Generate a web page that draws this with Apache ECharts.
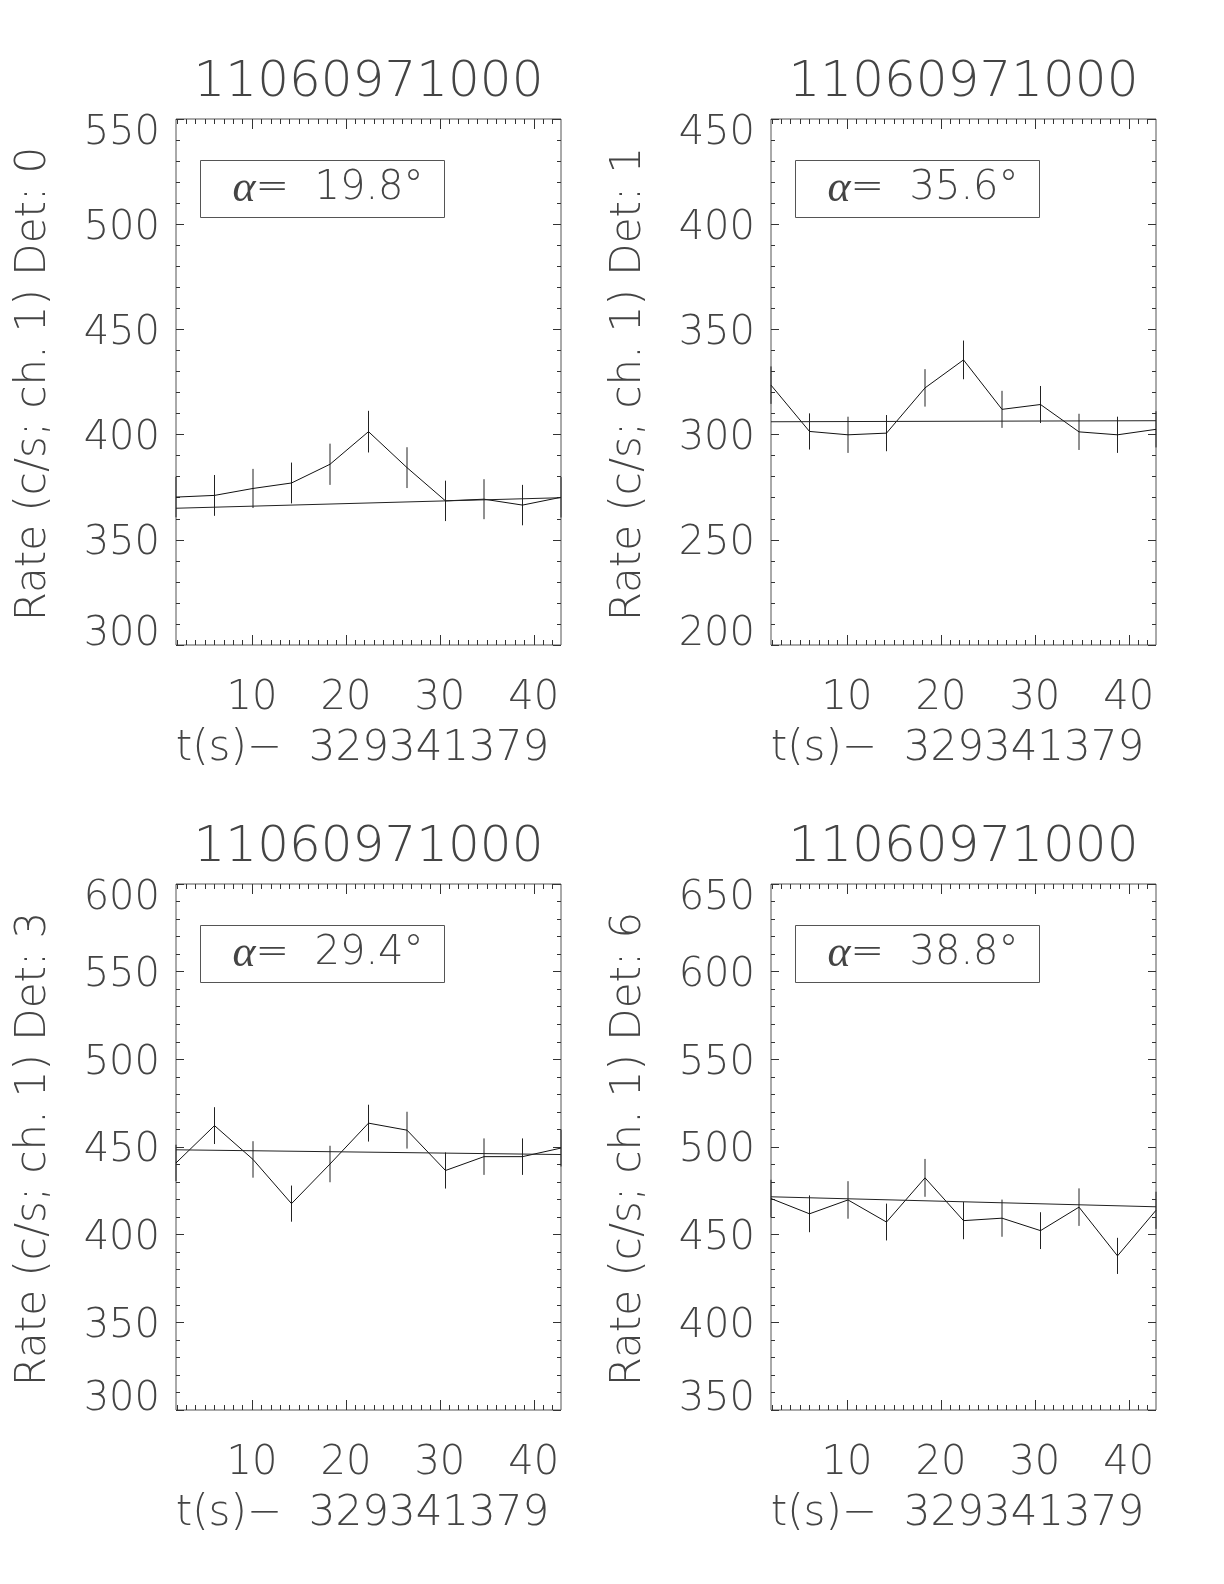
<!DOCTYPE html>
<html>
<head>
<meta charset="utf-8">
<title>11060971000 light curves</title>
<script src="https://cdn.jsdelivr.net/npm/echarts@6/dist/echarts.min.js"></script>
<style>
  html, body { margin: 0; padding: 0; background: #fff; }
  #chart { width: 1224px; height: 1584px; }
</style>
</head>
<body>
<div id="chart"></div>
<script>
// Observation and time base
const OBS_ID = '11060971000';
const T_OFFSET = '329341379';
const TIME = [1.9, 6.0, 10.1, 14.2, 18.3, 22.4, 26.5, 30.6, 34.7, 38.8, 42.9];
const X_TICKS = [10, 20, 30, 40];

// Detectors and their source angles
const DETECTORS = [0, 1, 3, 6];
const ALPHA = [19.8, 35.6, 29.4, 38.8];

// Count rates (c/s, channel 1), 1-sigma errors and background fit end points
const RATE_DET0 = [370.3, 371.1, 374.4, 377.0, 385.9, 401.4, 384.3, 368.5, 369.3, 366.5, 370.2];
const ERR_DET0  = [9.6, 9.7, 9.3, 9.7, 9.8, 9.9, 9.7, 9.6, 9.5, 9.6, 9.6];
const FIT_DET0  = [365.0, 370.0];

const RATE_DET1 = [323.5, 301.5, 299.9, 300.7, 322.2, 335.5, 312.0, 314.3, 301.3, 299.9, 302.5];
const ERR_DET1  = [8.9, 8.6, 8.6, 8.6, 8.9, 9.2, 8.8, 8.8, 8.6, 8.6, 8.6];
const FIT_DET1  = [306.1, 306.6];

const RATE_DET3 = [440.9, 462.2, 442.9, 417.7, 440.3, 463.6, 459.6, 436.6, 444.5, 444.5, 449.4];
const ERR_DET3  = [10.4, 10.5, 10.4, 10.3, 10.4, 10.5, 10.5, 10.3, 10.4, 10.4, 10.5];
const FIT_DET3  = [448.4, 445.7];

const RATE_DET6 = [470.6, 461.9, 469.8, 457.2, 482.4, 458.0, 459.4, 452.3, 465.7, 437.9, 463.9];
const ERR_DET6  = [10.7, 10.5, 10.7, 10.5, 10.8, 10.6, 10.6, 10.5, 10.7, 10.3, 10.6];
const FIT_DET6  = [471.6, 465.9];

// Y tick labels per detector
const Y_TICKS_DET0 = [300, 350, 400, 450, 500, 550];
const Y_TICKS_DET1 = [200, 250, 300, 350, 400, 450];
const Y_TICKS_DET3 = [300, 350, 400, 450, 500, 550, 600];
const Y_TICKS_DET6 = [350, 400, 450, 500, 550, 600, 650];

const RATES = [RATE_DET0, RATE_DET1, RATE_DET3, RATE_DET6];
const ERRS = [ERR_DET0, ERR_DET1, ERR_DET3, ERR_DET6];
const FITS = [FIT_DET0, FIT_DET1, FIT_DET3, FIT_DET6];
const Y_TICKS = [Y_TICKS_DET0, Y_TICKS_DET1, Y_TICKS_DET3, Y_TICKS_DET6];

// Panel geometry (pixels)
const PANEL_LEFT = [176, 771, 176, 771];
const PANEL_TOP = [119, 119, 884, 884];
const PANEL_W = 385;
const PANEL_H = 526;

const FONT = 'DejaVu Sans';
const INK = '#333';
const TEXT = '#444';

const chart = echarts.init(document.getElementById('chart'), null, { renderer: 'canvas' });

const grids = [], xAxes = [], yAxes = [], series = [], graphics = [];

function range(a, b, step) {
  const out = [];
  for (let v = a; v <= b + 1e-9; v += step) out.push(v);
  return out;
}

const xMinor = range(Math.ceil(TIME[0]), Math.floor(TIME[TIME.length - 1]), 1);

DETECTORS.forEach((det, p) => {
  const left = PANEL_LEFT[p], top = PANEL_TOP[p];
  grids.push({
    left: left, top: top, width: PANEL_W, height: PANEL_H,
    show: true, borderColor: '#555', borderWidth: 1, backgroundColor: 'transparent',
    containLabel: false
  });

  const yt = Y_TICKS[p];
  const yMin = yt[0], yMax = yt[yt.length - 1];
  const yMinor = range(yMin, yMax, 10);
  const xMin = TIME[0], xMax = TIME[TIME.length - 1];

  const baseX = {
    type: 'value', gridIndex: p, min: xMin, max: xMax,
    axisLine: { show: false }, splitLine: { show: false }
  };
  // bottom major ticks with labels
  xAxes.push(Object.assign({}, baseX, {
    position: 'bottom',
    axisTick: { show: true, inside: true, length: 10, customValues: X_TICKS, lineStyle: { color: INK } },
    axisLabel: { show: true, customValues: X_TICKS, margin: 34, fontSize: 40, fontFamily: FONT,
                 fontWeight: 200, color: TEXT },
    name: 't(s)\u2212  ' + T_OFFSET, nameLocation: 'middle', nameGap: 83,
    nameTextStyle: { fontSize: 42, fontFamily: FONT, fontWeight: 200, color: TEXT, padding: [0, 12, 0, 0] }
  }));
  // bottom minor ticks
  xAxes.push(Object.assign({}, baseX, {
    position: 'bottom',
    axisTick: { show: true, inside: true, length: 5, customValues: xMinor, lineStyle: { color: INK } },
    axisLabel: { show: false }
  }));
  // top major / minor ticks
  xAxes.push(Object.assign({}, baseX, {
    position: 'top',
    axisTick: { show: true, inside: true, length: 10, customValues: X_TICKS, lineStyle: { color: INK } },
    axisLabel: { show: false }
  }));
  xAxes.push(Object.assign({}, baseX, {
    position: 'top',
    axisTick: { show: true, inside: true, length: 5, customValues: xMinor, lineStyle: { color: INK } },
    axisLabel: { show: false }
  }));

  const baseY = {
    type: 'value', gridIndex: p, min: yMin, max: yMax,
    axisLine: { show: false }, splitLine: { show: false }
  };
  // end labels sit inside the axis span
  const labelStyle = { fontSize: 40, fontFamily: FONT, fontWeight: 200, color: TEXT };
  yAxes.push(Object.assign({}, baseY, {
    position: 'left',
    axisTick: { show: true, inside: true, length: 8, customValues: yt, lineStyle: { color: INK } },
    axisLabel: {
      show: true, customValues: yt, margin: 16,
      formatter: function (v) {
        if (v === yMax) return '{hi|' + v + '}';
        if (v === yMin) return '{lo|' + v + '}';
        return '{mid|' + v + '}';
      },
      rich: {
        hi: Object.assign({ padding: [30, 0, 0, 0] }, labelStyle),
        lo: Object.assign({ padding: [0, 0, 20, 0] }, labelStyle),
        mid: Object.assign({ padding: [8, 0, 0, 0] }, labelStyle)
      }
    },
    name: 'Rate (c/s; ch. 1) Det: ' + det, nameLocation: 'middle', nameRotate: 90, nameGap: 121,
    nameTextStyle: { fontSize: 42, fontFamily: FONT, fontWeight: 200, color: TEXT, padding: [0, 4, 0, 0] }
  }));
  yAxes.push(Object.assign({}, baseY, {
    position: 'left',
    axisTick: { show: true, inside: true, length: 4, customValues: yMinor, lineStyle: { color: INK } },
    axisLabel: { show: false }
  }));
  yAxes.push(Object.assign({}, baseY, {
    position: 'right',
    axisTick: { show: true, inside: true, length: 8, customValues: yt, lineStyle: { color: INK } },
    axisLabel: { show: false }
  }));
  yAxes.push(Object.assign({}, baseY, {
    position: 'right',
    axisTick: { show: true, inside: true, length: 4, customValues: yMinor, lineStyle: { color: INK } },
    axisLabel: { show: false }
  }));

  const xi = p * 4, yi = p * 4;
  const rate = RATES[p], err = ERRS[p], fit = FITS[p];

  // measured light curve
  series.push({
    type: 'line', xAxisIndex: xi, yAxisIndex: yi,
    data: TIME.map((t, i) => [t, rate[i]]),
    symbol: 'none', lineStyle: { color: '#111', width: 1 }, silent: true, animation: false
  });
  // background fit
  series.push({
    type: 'line', xAxisIndex: xi, yAxisIndex: yi,
    data: [[TIME[0], fit[0]], [TIME[TIME.length - 1], fit[1]]],
    symbol: 'none', lineStyle: { color: '#222', width: 1 }, silent: true, animation: false
  });
  // 1-sigma error bars
  series.push({
    type: 'custom', xAxisIndex: xi, yAxisIndex: yi,
    data: TIME.map((t, i) => [t, rate[i] - err[i], rate[i] + err[i]]),
    encode: { x: 0, y: [1, 2] },
    renderItem: function (params, api) {
      const a = api.coord([api.value(0), api.value(1)]);
      const b = api.coord([api.value(0), api.value(2)]);
      return { type: 'line', shape: { x1: a[0], y1: a[1], x2: b[0], y2: b[1] },
               style: { stroke: '#222', lineWidth: 1 } };
    },
    silent: true, animation: false
  });

  // panel title
  graphics.push({
    type: 'text', x: left + PANEL_W / 2, y: top - 36,
    style: { text: OBS_ID, font: '200 50px "' + FONT + '"', fill: TEXT,
             align: 'center', verticalAlign: 'middle' }
  });
  // angle box
  graphics.push({
    type: 'rect', shape: { x: left + 24.5, y: top + 41.5, width: 244, height: 57 },
    style: { fill: 'none', stroke: '#555', lineWidth: 1 }
  });
  graphics.push({
    type: 'text', x: left + 152, y: top + 70,
    style: {
      text: '{a|\u03b1}{b|=  ' + ALPHA[p].toFixed(1) + '\u00b0}',
      align: 'center', verticalAlign: 'middle',
      rich: {
        a: { font: 'italic 44px "Liberation Serif"', fill: TEXT },
        b: { font: '200 40px "' + FONT + '"', fill: TEXT }
      }
    }
  });
});

chart.setOption({
  animation: false,
  backgroundColor: '#fff',
  grid: grids,
  xAxis: xAxes,
  yAxis: yAxes,
  series: series,
  graphic: graphics
});
</script>
</body>
</html>
